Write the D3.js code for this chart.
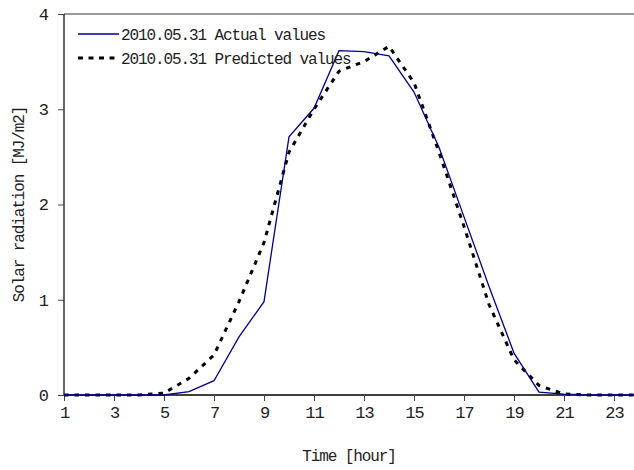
<!DOCTYPE html>
<html>
<head>
<meta charset="utf-8">
<script src="https://d3js.org/d3.v7.min.js"></script>
<style>
  body { margin: 0; background: #fff; }
  text { font-family: "Liberation Mono", "DejaVu Sans Mono", monospace; fill: #222; }
</style>
</head>
<body>
<div id="viz"></div>
<script>
//Width and height
var w = 634;
var h = 470;

// data
var hours = d3.range(1, 25);
var actual = [0, 0, 0, 0, 0, 0.035, 0.15, 0.61, 0.98, 2.71, 3.01, 3.615,
              3.605, 3.56, 3.18, 2.6, 1.87, 1.14, 0.44, 0.03, 0.01, 0, 0, 0];
var predicted = [0, 0, 0, 0, 0.02, 0.175, 0.42, 0.98, 1.6, 2.55, 3.0, 3.4,
                 3.5, 3.66, 3.28, 2.55, 1.77, 0.95, 0.37, 0.1, 0.01, 0, 0, 0];
var xTicks = [1, 3, 5, 7, 9, 11, 13, 15, 17, 19, 21, 23];
var yTicks = [0, 1, 2, 3, 4];
var seriesNames = ["2010.05.31 Actual values", "2010.05.31 Predicted values"];

var margin = {left: 64, top: 14, bottom: 75};

var x = d3.scaleLinear()
          .domain([1, 24])
          .range([margin.left, margin.left + 23 * 25]);

var y = d3.scaleLinear()
          .domain([0, 4])
          .range([h - margin.bottom, margin.top]);

//Create SVG element
var svg = d3.select("#viz")
            .append("svg")
            .attr("width", w)
            .attr("height", h);

// top border of plot area
svg.append("line")
    .attr("x1", x(1)).attr("x2", w)
    .attr("y1", y(4)).attr("y2", y(4))
    .attr("stroke", "#333")
    .attr("stroke-width", 1.2);

// x axis
var xAxis = svg.append("g")
    .attr("transform", "translate(0," + y(0) + ")")
    .call(d3.axisBottom(x).tickValues(xTicks).tickFormat(d3.format("d")).tickSize(6).tickPadding(5));

xAxis.select(".domain").attr("d", "M" + x(1) + ",0H" + w).attr("stroke", "#000").attr("stroke-width", 1.5);

// y axis
var yAxis = svg.append("g")
    .attr("transform", "translate(" + x(1) + ",0)")
    .call(d3.axisLeft(y).tickValues(yTicks).tickFormat(d3.format("d")).tickSize(6).tickPadding(10));

yAxis.select(".domain").attr("d", "M0," + y(0) + "V" + y(4)).attr("stroke", "#000").attr("stroke-width", 1.2);

svg.selectAll(".tick line").attr("stroke", "#444");
svg.selectAll(".tick text")
    .style("font-family", "Liberation Mono")
    .style("font-size", "17px")
    .style("letter-spacing", "-1px")
    .attr("fill", "#222");

// axis titles
svg.append("text")
    .attr("x", (x(1) + w) / 2)
    .attr("y", 461)
    .attr("text-anchor", "middle")
    .style("font-size", "16px")
    .style("letter-spacing", "-1.1px")
    .text("Time [hour]");

svg.append("text")
    .attr("transform", "translate(24," + (y(0) + y(4)) / 2 + ") rotate(-90)")
    .attr("text-anchor", "middle")
    .style("font-size", "16px")
    .style("letter-spacing", "-1.1px")
    .text("Solar radiation [MJ/m2]");

//Lines
var line = d3.line()
    .x(function(d, i) { return x(hours[i]); })
    .y(function(d) { return y(d); });

svg.append("path")
    .datum(predicted)
    .attr("fill", "none")
    .attr("stroke", "#000")
    .attr("stroke-width", 3)
    .attr("stroke-dasharray", "4.5,6")
    .attr("d", line);

svg.append("path")
    .datum(actual)
    .attr("fill", "none")
    .attr("stroke", "#00008b")
    .attr("stroke-width", 1.3)
    .attr("d", line);

// legend
var legend = svg.append("g").attr("class", "legend");
var styles = [
    {stroke: "#00008b", width: 1.3, dash: null},
    {stroke: "#000", width: 3, dash: "5,5.5"}
];

seriesNames.forEach(function(name, i) {
    var ly = 34 + i * 24;
    legend.append("line")
        .attr("x1", 78).attr("x2", 119)
        .attr("y1", ly).attr("y2", ly)
        .attr("stroke", styles[i].stroke)
        .attr("stroke-width", styles[i].width)
        .attr("stroke-dasharray", styles[i].dash);
    legend.append("text")
        .attr("x", 121)
        .attr("y", ly + 5.5)
        .style("font-size", "16px")
        .style("letter-spacing", "-1.1px")
        .text(name);
});
</script>
</body>
</html>
